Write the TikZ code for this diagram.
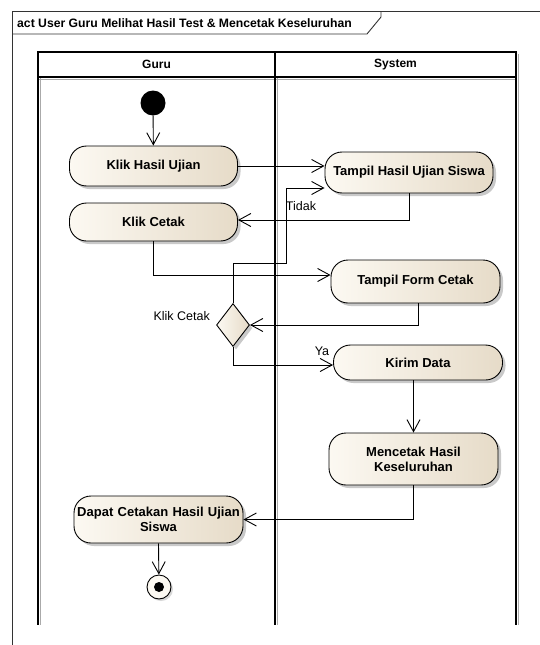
\documentclass[tikz,border=0pt]{standalone}
\usepackage{fontspec}
\setmainfont{Liberation Sans}
\usetikzlibrary{arrows.meta,shapes.geometric,shadows,calc}

\definecolor{actlight}{RGB}{252,249,242}
\definecolor{actdark}{RGB}{230,219,200}
\definecolor{laneshade}{RGB}{170,170,170}

\tikzset{
  action/.style={draw=black, line width=0.9pt, rounded corners=17pt,
    left color=actlight, right color=actdark,
    drop shadow={shadow xshift=3pt, shadow yshift=-3pt, fill=black!35, opacity=0.6},
    minimum width=168pt, minimum height=40pt, align=center,
    font=\fontsize{13}{15}\selectfont\bfseries, inner sep=2pt},
  decision/.style={draw=black, line width=0.9pt, diamond, aspect=0.76,
    left color=actlight, right color=actdark,
    drop shadow={shadow xshift=3pt, shadow yshift=-3pt, fill=black!35, opacity=0.6},
    minimum width=33pt, minimum height=43pt, inner sep=0pt},
  flow/.style={draw=black, line width=0.9pt, -{Straight Barb[length=12pt,width=13pt,line width=0.9pt]}},
  lane/.style={draw=black, line width=1.1pt},
  guard/.style={font=\fontsize{12.5}{15}\selectfont, inner sep=0pt}
}

\begin{document}
\begin{tikzpicture}[x=1pt,y=-1pt]
  \useasboundingbox (0,0) rectangle (540,645);
  \fill[white] (0,0) rectangle (540,645);

  % activity frame with its name tag
  \draw[line width=0.9pt, black!80] (12,645) -- (12,11) -- (540,11);
  \draw[line width=0.9pt, black!80] (12,34) -- (367,34) -- (381,17) -- (381,11);
  \node[anchor=west, inner sep=0pt, font=\fontsize{12.2}{14}\selectfont\bfseries]
    (title) at (17,23) {act User Guru Melihat Hasil Test \& Mencetak Keseluruhan};

  % swimlanes
  \draw[laneshade, line width=1pt] (40,78) -- (40,625) (277,78) -- (277,625) (518,54) -- (518,625);
  \draw[laneshade, line width=1pt] (38,79) -- (516,79);
  \draw[lane] (38,52) rectangle (275,77);
  \draw[lane] (275,52) rectangle (516,77);
  \draw[lane] (38,77) -- (38,625) (275,77) -- (275,625) (516,77) -- (516,625);
  \node[font=\fontsize{12}{14}\selectfont\bfseries] (laneguru) at (156.5,64.5) {Guru};
  \node[font=\fontsize{12}{14}\selectfont\bfseries] (lanesys) at (395.5,64.5) {System};

  % nodes
  \node[circle, fill=black, minimum size=25pt, inner sep=0pt] (init) at (153,103) {};
  \node[action] (klikhasil) at (153.5,166) {Klik Hasil Ujian};
  \node[action, minimum height=38pt] (klikcetak) at (153.5,222) {Klik Cetak};
  \node[action, minimum height=41pt] (tampilhasil) at (409,172.5) {Tampil Hasil Ujian Siswa};
  \node[action, minimum height=43pt, minimum width=169pt] (tampilform) at (415.5,281.5) {Tampil Form Cetak};
  \node[decision] (dec) at (233,325) {};
  \node[action, minimum height=35pt, minimum width=169pt] (kirim) at (418,362.5) {Kirim Data};
  \node[action, minimum height=52pt, minimum width=169pt, text width=150pt] (mencetak) at (413.5,459) {Mencetak Hasil\\Keseluruhan};
  \node[action, minimum height=47pt, minimum width=169pt, text width=168pt, inner xsep=0.5pt] (dapat) at (158.5,519.5) {Dapat Cetakan Hasil Ujian\\Siswa};
  \node[circle, draw=black, line width=0.9pt, fill=actlight, minimum size=24pt, inner sep=0pt,
        drop shadow={shadow xshift=2pt, shadow yshift=-2pt, fill=black!30, opacity=0.5}] (final) at (159,587) {};
  \node[circle, fill=black, minimum size=10pt, inner sep=0pt] (finaldot) at (final.center) {};

  % helper point for the "Tidak" loop back
  \coordinate (loop) at (286,263);

  % control flows
  \draw[flow] (init) -- (klikhasil);
  \draw[flow] (klikhasil.east) -- (tampilhasil.west |- klikhasil.east);
  \draw[flow] (tampilhasil.south) |- ([yshift=2pt]klikcetak.east);
  \draw[flow] (klikcetak.south) |- ([yshift=6.5pt]tampilform.west);
  \draw[flow] (tampilform.south -| 418,0) |- (dec.east);
  \draw[flow] (dec.north) |- (loop) |- ([yshift=-15.5pt]tampilhasil.west);
  \draw[flow] (dec.south) |- ([yshift=-2.5pt]kirim.west);
  \draw[flow] (mencetak.north |- kirim.south) -- (mencetak.north);
  \draw[flow] (mencetak.south) |- (dapat.east);
  \draw[flow] (dapat.south) -- (final);

  % guards and the decision name
  \node[guard] (tidak) at (301,206) {Tidak};
  \node[guard] (ya) at (322,351) {Ya};
  \node[guard, anchor=east] (declabel) at (210,316) {Klik Cetak};
\end{tikzpicture}
\end{document}
